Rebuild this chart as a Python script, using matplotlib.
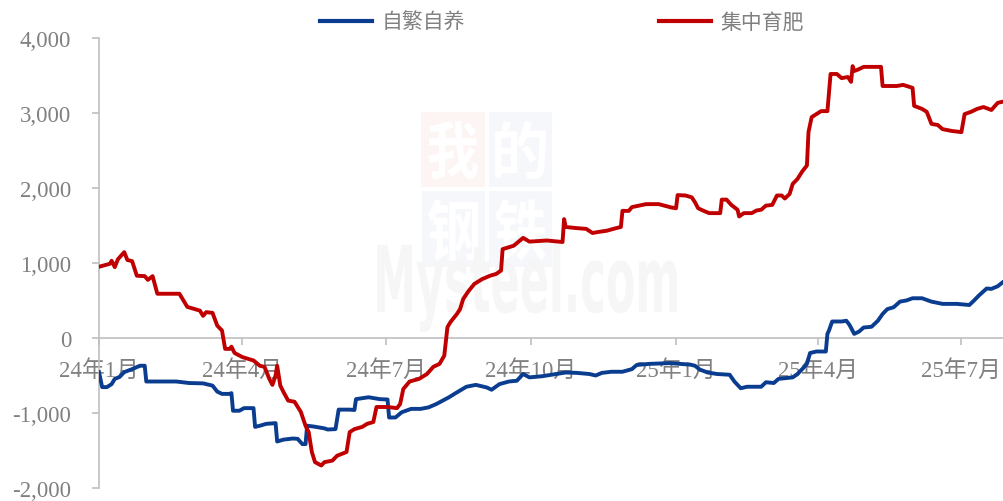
import matplotlib
matplotlib.use("Agg")
import matplotlib.pyplot as plt
import matplotlib.ticker as mticker
from matplotlib.textpath import TextPath
from matplotlib.patches import PathPatch, Rectangle
from matplotlib.transforms import Affine2D
from matplotlib.font_manager import FontProperties
import pandas as pd

plt.rcParams['font.family'] = ['Liberation Serif', 'Noto Sans CJK SC', 'DejaVu Sans']

# ---------------- data ----------------
series_names = ['自繁自养', '集中育肥']

red_dates = ["2024-01-01","2024-01-08","2024-01-09","2024-01-11","2024-01-13","2024-01-17","2024-01-19","2024-01-22","2024-01-25","2024-01-30",
             "2024-02-01","2024-02-04","2024-02-07","2024-02-21","2024-02-23","2024-02-26","2024-03-05","2024-03-07","2024-03-09","2024-03-13",
             "2024-03-16","2024-03-19","2024-03-21","2024-03-24","2024-03-25","2024-03-27","2024-04-01","2024-04-08","2024-04-12","2024-04-15",
             "2024-04-18","2024-04-20","2024-04-22","2024-04-23","2024-04-25","2024-04-27","2024-04-30","2024-05-04","2024-05-08","2024-05-11",
             "2024-05-13","2024-05-15","2024-05-17","2024-05-21","2024-05-23","2024-05-28","2024-05-31","2024-06-06","2024-06-08","2024-06-11",
             "2024-06-16","2024-06-19","2024-06-23","2024-06-25","2024-07-02","2024-07-08","2024-07-10","2024-07-12","2024-07-16","2024-07-22",
             "2024-07-27","2024-07-31","2024-08-04","2024-08-07","2024-08-09","2024-08-11","2024-08-15","2024-08-17","2024-08-19","2024-08-22",
             "2024-08-26","2024-08-31","2024-09-05","2024-09-09","2024-09-12","2024-09-13","2024-09-17","2024-09-20","2024-09-26","2024-09-30",
             "2024-10-11","2024-10-18","2024-10-21","2024-10-22","2024-10-23","2024-10-30","2024-11-05","2024-11-09","2024-11-13","2024-11-18",
             "2024-11-24","2024-11-27","2024-11-28","2024-12-02","2024-12-04","2024-12-13","2024-12-21","2024-12-29","2025-01-01","2025-01-02",
             "2025-01-07","2025-01-11","2025-01-13","2025-01-15","2025-01-18","2025-01-22","2025-01-29","2025-01-30","2025-02-02","2025-02-05",
             "2025-02-09","2025-02-10","2025-02-13","2025-02-18","2025-02-21","2025-02-24","2025-02-27","2025-03-03","2025-03-06","2025-03-09",
             "2025-03-11","2025-03-14","2025-03-16","2025-03-19","2025-03-22","2025-03-25","2025-03-26","2025-03-28","2025-03-31","2025-04-03",
             "2025-04-07","2025-04-09","2025-04-13","2025-04-16","2025-04-20","2025-04-22","2025-04-23","2025-04-24","2025-04-26","2025-04-30",
             "2025-05-11","2025-05-12","2025-05-21","2025-05-25","2025-05-31","2025-06-01","2025-06-06","2025-06-09","2025-06-12","2025-06-16",
             "2025-06-19","2025-06-25","2025-07-01","2025-07-03","2025-07-07","2025-07-11","2025-07-15","2025-07-20","2025-07-24","2025-07-27"]
red_values = [950,990,1030,945,1050,1145,1040,1025,830,825,
              775,825,590,590,520,415,365,295,345,335,
              165,100,-145,-145,-115,-200,-255,-300,-370,-385,
              -545,-625,-500,-370,-635,-720,-835,-850,-985,-1170,
              -1255,-1520,-1655,-1700,-1655,-1635,-1570,-1520,-1255,-1215,
              -1185,-1145,-1120,-920,-920,-935,-880,-680,-580,-545,
              -480,-385,-345,-235,145,215,320,385,520,615,
              720,785,830,855,900,1185,1210,1230,1335,1285,
              1300,1285,1280,1585,1480,1465,1455,1400,1415,1430,
              1465,1480,1695,1695,1745,1785,1785,1740,1730,1905,
              1900,1875,1810,1730,1700,1665,1665,1845,1845,1775,
              1710,1620,1665,1665,1700,1710,1765,1775,1900,1900,
              1860,1920,2055,2120,2220,2300,2745,2945,2985,3025,
              3025,3520,3520,3465,3480,3415,3625,3560,3575,3615,
              3615,3360,3360,3375,3335,3095,3055,3015,2855,2840,
              2785,2760,2745,2985,3015,3055,3080,3040,3135,3150]

blue_dates = ["2024-01-01","2024-01-03","2024-01-06","2024-01-09","2024-01-11","2024-01-14","2024-01-17","2024-01-22","2024-01-27","2024-01-30",
              "2024-01-31","2024-02-19","2024-02-27","2024-03-07","2024-03-13","2024-03-16","2024-03-19","2024-03-24","2024-03-25","2024-03-26",
              "2024-03-30","2024-04-02","2024-04-08","2024-04-09","2024-04-12","2024-04-16","2024-04-22","2024-04-23","2024-04-27","2024-05-03",
              "2024-05-06","2024-05-09","2024-05-11","2024-05-12","2024-05-16","2024-05-23","2024-05-25","2024-05-30","2024-06-01","2024-06-08",
              "2024-06-11","2024-06-12","2024-06-20","2024-06-27","2024-07-02","2024-07-03","2024-07-07","2024-07-11","2024-07-17","2024-07-23",
              "2024-07-28","2024-08-02","2024-08-06","2024-08-10","2024-08-15","2024-08-21","2024-08-27","2024-09-03","2024-09-06","2024-09-11",
              "2024-09-17","2024-09-22","2024-09-26","2024-09-30","2024-10-08","2024-10-17","2024-10-23","2024-10-30","2024-11-07","2024-11-11",
              "2024-11-15","2024-11-21","2024-11-28","2024-12-04","2024-12-07","2024-12-15","2024-12-28","2025-01-10","2025-01-13","2025-01-16",
              "2025-01-21","2025-01-27","2025-02-04","2025-02-07","2025-02-11","2025-02-15","2025-02-24","2025-02-27","2025-03-04","2025-03-07",
              "2025-03-16","2025-03-19","2025-03-22","2025-03-25","2025-03-27","2025-03-31","2025-04-06","2025-04-07","2025-04-08","2025-04-10",
              "2025-04-16","2025-04-19","2025-04-21","2025-04-24","2025-04-27","2025-04-30","2025-05-05","2025-05-09","2025-05-12","2025-05-15",
              "2025-05-19","2025-05-23","2025-05-27","2025-05-31","2025-06-06","2025-06-12","2025-06-19","2025-06-28","2025-07-06","2025-07-09",
              "2025-07-12","2025-07-17","2025-07-20","2025-07-24","2025-07-27"]
blue_values = [-455,-655,-655,-615,-545,-520,-455,-415,-370,-370,
               -580,-580,-600,-605,-635,-715,-745,-745,-735,-970,
               -970,-935,-935,-1185,-1170,-1145,-1135,-1380,-1355,-1340,
               -1345,-1415,-1415,-1170,-1180,-1205,-1220,-1215,-955,-955,
               -960,-815,-790,-815,-820,-1060,-1060,-990,-945,-945,
               -925,-880,-835,-790,-725,-650,-625,-660,-690,-615,
               -580,-570,-480,-525,-510,-480,-460,-465,-480,-500,
               -465,-450,-450,-415,-360,-345,-335,-355,-370,-420,
               -460,-480,-490,-580,-670,-650,-650,-590,-600,-545,
               -525,-480,-415,-345,-200,-180,-180,55,100,220,
               220,230,175,55,85,140,150,230,320,385,
               410,485,500,530,530,485,455,455,440,500,
               565,660,655,690,740]

x_tick_dates = ["2024-01-01","2024-04-01","2024-07-01","2024-10-01","2025-01-01","2025-04-01","2025-07-01"]
x_tick_labels = ["24年1月","24年4月","24年7月","24年10月","25年1月","25年4月","25年7月"]
y_ticks = [-2000, -1000, 0, 1000, 2000, 3000, 4000]

# ---------------- figure ----------------
W, H = 1004, 502
fig = plt.figure(figsize=(W/100, H/100), dpi=100)
ax = fig.add_axes([99/W, 1-489/H, (1004-99)/W, (489-39)/H])
ax.patch.set_alpha(0)

BLUE = '#0A3D8F'
RED = '#C00000'
GRAY_AX = '#BFBFBF'
GRAY_TX = '#808080'

# ---- watermark ----
def fit_text(text, x0, y0, x1, y1, color, family, weight='normal', z=0.5):
    tp = TextPath((0, 0), text, size=100, prop=FontProperties(family=family, weight=weight))
    ext = tp.get_extents()
    sx = (x1 - x0) / ext.width
    sy = (y1 - y0) / ext.height
    tr = (Affine2D().translate(-ext.x0, -ext.y0).scale(sx / W, sy / H)
          .translate(x0 / W, 1 - y1 / H) + fig.transFigure)
    p = PathPatch(tp, transform=tr, fc=color, ec='none', zorder=z)
    p.set_clip_on(False)
    ax.add_artist(p)

def box(x0, y0, x1, y1, color, z=0.4):
    r = Rectangle((x0 / W, 1 - y1 / H), (x1 - x0) / W, (y1 - y0) / H,
                  transform=fig.transFigure, fc=color, ec='none', zorder=z)
    r.set_clip_on(False)
    ax.add_artist(r)

box(421, 113, 485, 188, '#FDF4F4')
box(489, 113, 552, 188, '#F6F7FB')
box(422, 192, 485, 268, '#F6F7FB')
box(489, 192, 552, 268, '#F6F7FB')
fit_text('我', 428, 122, 478, 180, 'white', 'Noto Sans CJK SC', 'bold')
fit_text('的', 495, 122, 546, 180, 'white', 'Noto Sans CJK SC', 'bold')
fit_text('钢', 428, 200, 478, 262, 'white', 'Noto Sans CJK SC', 'bold')
fit_text('铁', 495, 200, 546, 262, 'white', 'Noto Sans CJK SC', 'bold')
fit_text('Mysteel.com', 377, 243, 677, 333, '#F6F6F6', 'DejaVu Sans', 'bold')

# ---- lines ----
bd = pd.to_datetime(blue_dates)
rd = pd.to_datetime(red_dates)
l1, = ax.plot(bd, blue_values, color=BLUE, lw=2.8, solid_joinstyle='round', zorder=3)
l2, = ax.plot(rd, red_values, color=RED, lw=2.8, solid_joinstyle='round', zorder=3)

# ---- axes ----
ax.set_xlim(pd.Timestamp("2024-01-01"), pd.Timestamp("2025-07-28"))
ax.set_ylim(-2000, 4000)
ax.set_yticks(y_ticks)
ax.yaxis.set_major_formatter(mticker.FuncFormatter(lambda v, p: f"{v:,.0f}"))
ax.set_xticks(pd.to_datetime(x_tick_dates))
ax.set_xticklabels(x_tick_labels)

for s in ['top', 'right']:
    ax.spines[s].set_visible(False)
ax.spines['bottom'].set_position(('data', 0))
ax.spines['bottom'].set_color(GRAY_AX)
ax.spines['left'].set_color(GRAY_AX)
ax.spines['bottom'].set_linewidth(1.2)
ax.spines['left'].set_linewidth(1.2)

ax.tick_params(axis='y', direction='out', length=5, width=1.2, color=GRAY_AX,
               labelcolor=GRAY_TX, labelsize=16.5, pad=15)
ax.tick_params(axis='x', direction='out', length=5, width=1.2, color=GRAY_AX,
               labelcolor=GRAY_TX, labelsize=16.5, pad=10)

# ---- legend ----
leg = ax.legend(handles=[l1, l2], labels=series_names, ncol=2, loc='center left',
                bbox_to_anchor=(320 / W, 1 - 23 / H), bbox_transform=fig.transFigure,
                frameon=False, prop=FontProperties(family=['Noto Sans CJK SC'], size=15),
                handlelength=2.5, handletextpad=0.45, columnspacing=9.3,
                borderpad=0, borderaxespad=0, labelcolor=GRAY_TX)
for h in leg.get_lines():
    h.set_linewidth(3)

fig.savefig('out.png', dpi=100)
